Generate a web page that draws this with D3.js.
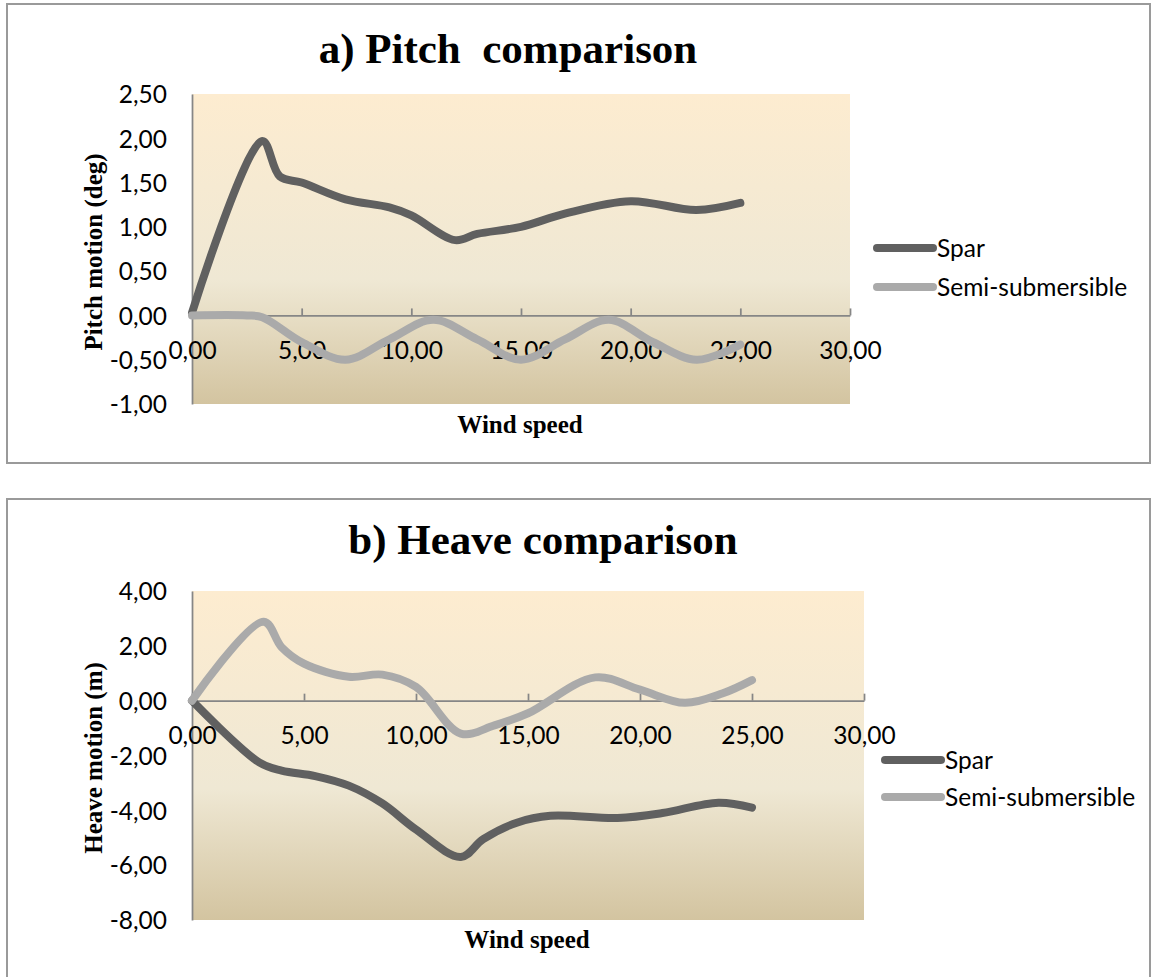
<!DOCTYPE html>
<html>
<head>
<meta charset="utf-8">
<script src="https://cdn.jsdelivr.net/npm/d3@7"></script>
<style>
  html, body { margin: 0; padding: 0; background: #ffffff; }
  svg { display: block; }
</style>
</head>
<body>
<svg id="chart" width="1153" height="977"></svg>
<script>
// ---------------- DATA ----------------
const seriesNames = ["Spar", "Semi-submersible"];

// a) Pitch comparison
const pitchSparX = [0, 3.2, 4, 5, 7, 9, 10, 12, 13, 15, 17, 20, 23, 25];
const pitchSparY = [0.03, 1.97, 1.57, 1.5, 1.31, 1.22, 1.13, 0.85, 0.92, 1.0, 1.15, 1.29, 1.19, 1.27];
const pitchSemiX = [0, 2.5, 3.2, 5, 7, 9, 11, 13, 15, 17, 19, 21, 23, 25];
const pitchSemiY = [0, 0, -0.02, -0.3, -0.5, -0.27, -0.05, -0.27, -0.5, -0.27, -0.05, -0.3, -0.5, -0.33];
const pitchYTicks = [2.5, 2.0, 1.5, 1.0, 0.5, 0.0, -0.5, -1.0];

// b) Heave comparison
const heaveSparX = [0, 3, 4, 5.5, 7, 8.5, 10, 12, 13, 14.5, 16, 19, 21, 23.5, 25];
const heaveSparY = [0, -2.25, -2.55, -2.75, -3.1, -3.75, -4.7, -5.7, -5.05, -4.45, -4.2, -4.28, -4.1, -3.72, -3.9];
const heaveSemiX = [0, 3.2, 4, 5, 7, 8.5, 10, 12, 13.5, 15, 18, 20, 22, 23.7, 25];
const heaveSemiY = [0, 2.88, 1.95, 1.35, 0.87, 0.95, 0.5, -1.2, -0.9, -0.46, 0.85, 0.4, -0.08, 0.27, 0.75];
const heaveYTicks = [4, 2, 0, -2, -4, -6, -8];

const xTicks = [0, 5, 10, 15, 20, 25, 30];

// ---------------- STYLE ----------------
const colors = { "Spar": "#606060", "Semi-submersible": "#aaaaaa" };
const fmt = v => d3.format(".2f")(v).replace(".", ",").replace("−", "-");
const serif = "'Liberation Serif', 'Times New Roman', serif";
const sans = "Lato, 'Open Sans', sans-serif";
const labelSize = 24.5;

const svg = d3.select("#chart");
const defs = svg.append("defs");
const grad = defs.append("linearGradient").attr("id", "parchment")
  .attr("x1", 0).attr("y1", 0).attr("x2", 0).attr("y2", 1);
grad.append("stop").attr("offset", "0%").attr("stop-color", "#fdecd0");
grad.append("stop").attr("offset", "60%").attr("stop-color", "#efe8d4");
grad.append("stop").attr("offset", "100%").attr("stop-color", "#d3c4a0");

function drawChart(cfg) {
  const g = svg.append("g");
  // frame
  g.append("rect")
    .attr("x", cfg.frame.x).attr("y", cfg.frame.y)
    .attr("width", cfg.frame.w).attr("height", cfg.frame.h)
    .attr("fill", "#ffffff").attr("stroke", "#9a9a9a").attr("stroke-width", 2);

  const x = d3.scaleLinear().domain([0, 30]).range([cfg.plot.l, cfg.plot.r]);
  const y = d3.scaleLinear().domain(cfg.yDomain).range([cfg.plot.b, cfg.plot.t]);

  // plot background
  g.append("rect")
    .attr("x", cfg.plot.l).attr("y", cfg.plot.t)
    .attr("width", cfg.plot.r - cfg.plot.l).attr("height", cfg.plot.b - cfg.plot.t)
    .attr("fill", "url(#parchment)");

  // y axis
  const yAxis = g.append("g").attr("transform", `translate(${cfg.plot.l},0)`)
    .call(d3.axisLeft(y).tickValues(cfg.yTicks).tickSize(0).tickPadding(25).tickFormat(fmt));
  yAxis.select(".domain").attr("stroke", "#868686").attr("stroke-width", 1.75);
  yAxis.selectAll("text").attr("font-family", sans).attr("font-size", labelSize)
    .attr("fill", "#000").attr("dy", "0.36em");

  // x axis at y=0
  const xAxis = g.append("g").attr("transform", `translate(0,${y(0)})`)
    .call(d3.axisBottom(x).tickValues(xTicks).tickSizeInner(-7).tickSizeOuter(0).tickFormat(fmt));
  xAxis.select(".domain").attr("stroke", "#868686").attr("stroke-width", 1.75);
  xAxis.selectAll("line").attr("stroke", "#868686").attr("stroke-width", 1.75);
  xAxis.selectAll("text").attr("font-family", sans).attr("font-size", labelSize)
    .attr("fill", "#000").attr("y", 35).attr("dy", "0.36em");

  // lines
  const line = d3.line()
    .x(d => x(d[0])).y(d => y(d[1]))
    .curve(d3.curveCatmullRom.alpha(0.5));
  cfg.series.forEach(s => {
    const pts = s.x.map((v, i) => [v, s.y[i]]);
    g.append("path").datum(pts)
      .attr("d", line)
      .attr("fill", "none")
      .attr("stroke", colors[s.name])
      .attr("stroke-width", 8)
      .attr("stroke-linecap", "round")
      .attr("stroke-linejoin", "round");
  });

  // title
  g.append("text")
    .attr("x", cfg.titlePos[0]).attr("y", cfg.titlePos[1])
    .attr("text-anchor", "middle")
    .attr("font-family", serif).attr("font-weight", "bold").attr("font-size", 43)
    .style("white-space", "pre")
    .text(cfg.title);

  // x title
  g.append("text")
    .attr("x", cfg.xTitlePos[0]).attr("y", cfg.xTitlePos[1])
    .attr("text-anchor", "middle")
    .attr("font-family", serif).attr("font-weight", "bold").attr("font-size", 25)
    .text("Wind speed");

  // y title
  g.append("text")
    .attr("transform", `translate(${cfg.yTitlePos[0]},${cfg.yTitlePos[1]}) rotate(-90)`)
    .attr("text-anchor", "middle")
    .attr("font-family", serif).attr("font-weight", "bold").attr("font-size", 25)
    .text(cfg.yTitle);

  // legend
  seriesNames.forEach((name, i) => {
    const ly = cfg.legend.y + i * cfg.legend.dy;
    g.append("line")
      .attr("x1", cfg.legend.x).attr("x2", cfg.legend.x + 56)
      .attr("y1", ly).attr("y2", ly)
      .attr("stroke", colors[name]).attr("stroke-width", 8)
      .attr("stroke-linecap", "round");
    g.append("text")
      .attr("x", cfg.legend.x + 60).attr("y", ly).attr("dy", "0.36em")
      .attr("font-family", sans).attr("font-size", labelSize).attr("fill", "#000")
      .text(name);
  });
}

drawChart({
  frame: { x: 7, y: 4, w: 1143, h: 459 },
  plot: { l: 192, r: 850, t: 94, b: 404 },
  yDomain: [-1, 2.5],
  yTicks: pitchYTicks,
  series: [
    { name: "Spar", x: pitchSparX, y: pitchSparY },
    { name: "Semi-submersible", x: pitchSemiX, y: pitchSemiY }
  ],
  title: "a) Pitch  comparison",
  titlePos: [508, 63],
  xTitlePos: [520, 433],
  yTitle: "Pitch motion (deg)",
  yTitlePos: [102, 252],
  legend: { x: 877, y: 248, dy: 39 }
});

drawChart({
  frame: { x: 7, y: 499, w: 1143, h: 500 },
  plot: { l: 192, r: 864, t: 591, b: 920 },
  yDomain: [-8, 4],
  yTicks: heaveYTicks,
  series: [
    { name: "Spar", x: heaveSparX, y: heaveSparY },
    { name: "Semi-submersible", x: heaveSemiX, y: heaveSemiY }
  ],
  title: "b) Heave comparison",
  titlePos: [543, 554],
  xTitlePos: [527, 948],
  yTitle: "Heave motion (m)",
  yTitlePos: [102, 758],
  legend: { x: 885, y: 760, dy: 37 }
});
</script>
</body>
</html>
